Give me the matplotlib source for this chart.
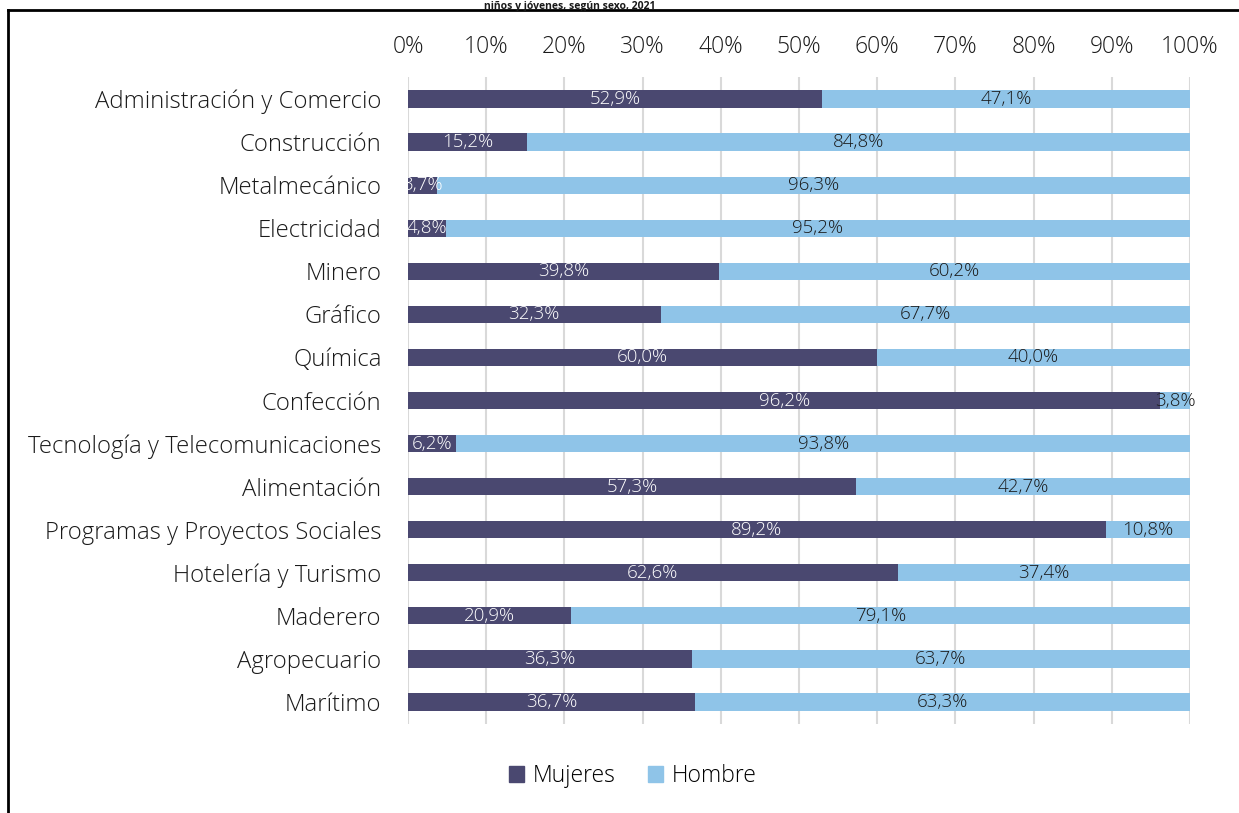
import matplotlib.pyplot as plt
from matplotlib.lines import Line2D

categorias = ["Administración y Comercio", "Construcción", "Metalmecánico", "Electricidad",
              "Minero", "Gráfico", "Química", "Confección", "Tecnología y Telecomunicaciones",
              "Alimentación", "Programas y Proyectos Sociales", "Hotelería y Turismo",
              "Maderero", "Agropecuario", "Marítimo"]
mujeres = [52.9, 15.2, 3.7, 4.8, 39.8, 32.3, 60.0, 96.2, 6.2, 57.3, 89.2, 62.6, 20.9, 36.3, 36.7]
hombre = [47.1, 84.8, 96.3, 95.2, 60.2, 67.7, 40.0, 3.8, 93.8, 42.7, 10.8, 37.4, 79.1, 63.7, 63.3]
ticks = [0, 10, 20, 30, 40, 50, 60, 70, 80, 90, 100]

c_muj = "#4a4870"
c_hom = "#8fc4e8"
plt.rcParams['font.family'] = ['Open Sans', 'DejaVu Sans']

W, H = 1239, 813
fig = plt.figure(figsize=(W / 100, H / 100), dpi=100)
ax = fig.add_axes([408 / W, 1 - 723.5 / H, (1190 - 408) / W, (723.5 - 77.5) / H])

y = list(range(len(categorias)))
ax.barh(y, mujeres, height=0.4, color=c_muj, zorder=3)
ax.barh(y, hombre, left=mujeres, height=0.4, color=c_hom, zorder=3)

def fmt(v):
    return ("%.1f%%" % v).replace(".", ",")

for i in y:
    ax.text(mujeres[i] / 2, i, fmt(mujeres[i]), ha="center", va="center",
            color="white", fontsize=13.5, fontweight="light", zorder=4)
    ax.text(mujeres[i] + hombre[i] / 2, i, fmt(hombre[i]), ha="center", va="center",
            color="#1a1a1a", fontsize=13.5, fontweight="light", zorder=4)

ax.set_xlim(0, 100)
ax.set_ylim(len(categorias) - 0.5, -0.5)
ax.set_xticks(ticks)
ax.set_xticklabels([f"{t}%" for t in ticks], fontsize=16.5, fontweight="light", color="#1a1a1a")
ax.xaxis.tick_top()
ax.tick_params(axis="x", length=0, pad=13)
ax.set_yticks(y)
ax.set_yticklabels(categorias, fontsize=17.2, fontweight="light", color="#1a1a1a")
ax.tick_params(axis="y", length=0, pad=19)
ax.grid(axis="x", color="#d9d9d9", linewidth=1.5, zorder=0)
for s in ax.spines.values():
    s.set_visible(False)

handles = [plt.Rectangle((0, 0), 1, 1, color=c_muj), plt.Rectangle((0, 0), 1, 1, color=c_hom)]
fig.legend(handles, ["Mujeres", "Hombre"], loc="center", bbox_to_anchor=(633 / W, 1 - 776 / H),
           ncol=2, frameon=False, prop={"size": 16.5, "weight": "light"},
           handlelength=0.65, handleheight=0.65, handletextpad=0.4, columnspacing=1.4)

# titulo (recortado en el original) y marco
fig.text(655 / W, 1 - 8.5 / H, "niños y jóvenes, según sexo, 2021", ha="right", va="baseline",
         fontsize=7.5, fontweight="bold", color="#1a1a1a")
fig.add_artist(Line2D([8 / W, 1], [1 - 10 / H, 1 - 10 / H], color="black", linewidth=2))
fig.add_artist(Line2D([8 / W, 8 / W], [0, 1 - 10 / H], color="black", linewidth=2))

fig.savefig("out.png", dpi=100)
